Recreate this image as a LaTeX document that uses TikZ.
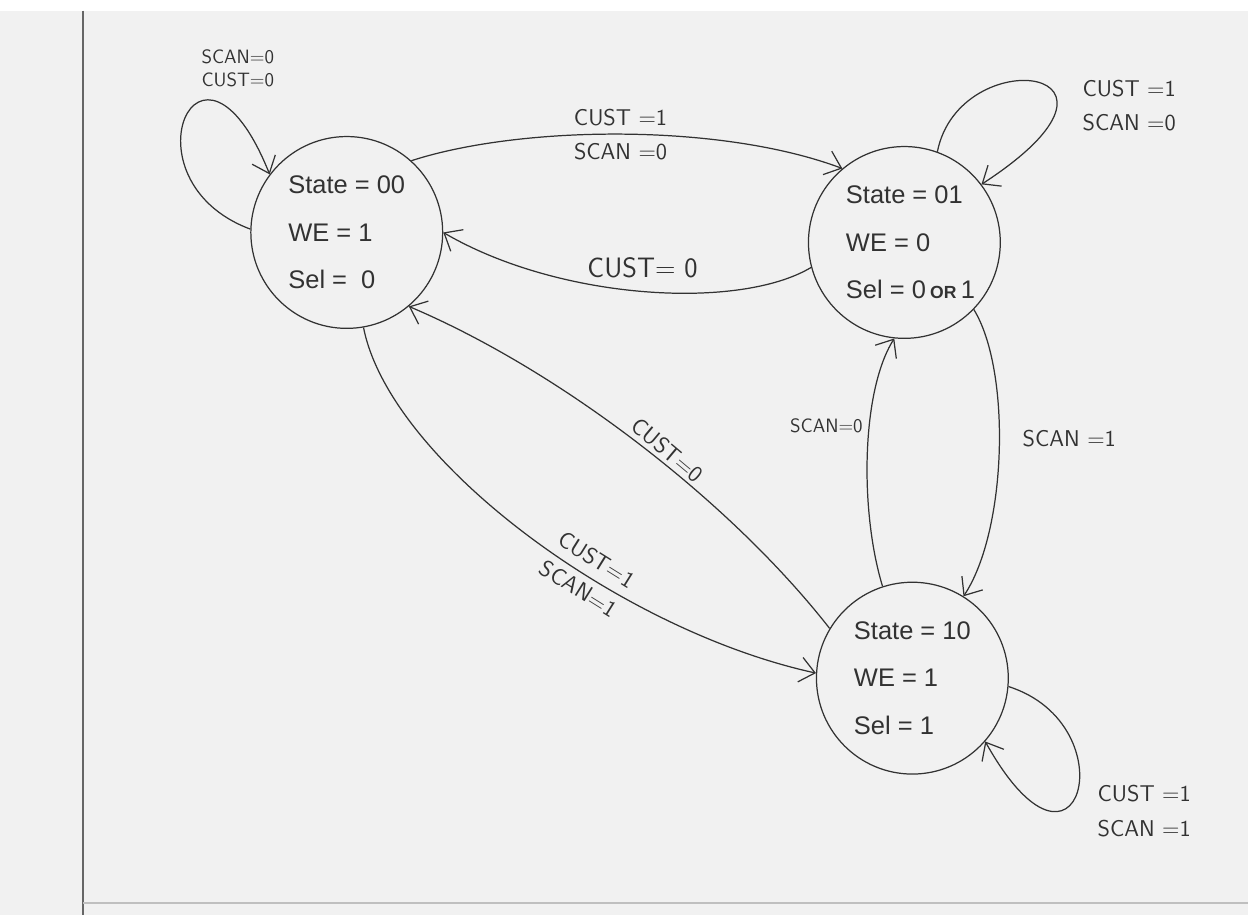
\documentclass[tikz,border=0pt]{standalone}
\usepackage{fontspec}
\newfontfamily\statefont{Liberation Sans}
\usetikzlibrary{arrows.meta}
\definecolor{fsmInk}{RGB}{50,50,50}
\definecolor{fsmPaper}{RGB}{241,241,241}
\newcommand{\handfont}{\sffamily\fontsize{13}{19.5}\selectfont}
\newcommand{\smallhand}{\sffamily\fontsize{11}{13}\selectfont}

\begin{document}
\begin{tikzpicture}[x=0.02cm, y=0.02cm,
    state/.style={circle, draw=fsmInk, line width=0.7pt, minimum size=3.84cm, inner sep=0pt,
                  align=left, text=fsmInk, font=\statefont\fontsize{14.5}{27}\selectfont},
    cond/.style={font=\handfont, text=fsmInk, align=center, inner sep=1pt},
    trans/.style={draw=fsmInk, line width=0.7pt, -{Straight Barb[length=3mm, width=5mm]}}
  ]
  % paper
  \fill[fsmPaper] (0,0) rectangle (1249,-905);
  \draw[black!60, line width=1.2pt] (83,0) -- (83,-905);
  \draw[black!25, line width=1pt] (83,-893) -- (1249,-893);

  % states
  \node[state] (s00) at (347,-222) {State = 00\\WE = 1\\Sel = \ 0};
  \node[state] (s01) at (905,-232) {State = 01\\WE = 0\\Sel = 0\rlap{\,{\fontsize{10}{12}\selectfont\bfseries OR}\,1}};
  \node[state] (s10) at (913,-668) {State = 10\\WE = 1\\Sel = 1};

  % self loops
  \draw[trans] (s00.178) .. controls (120,-170) and (200,10) .. (s00.143);
  \draw[trans] (s01.70) .. controls (960,-30) and (1165,-55) .. (s01.37);
  \draw[trans] (s10.-5) .. controls (1130,-715) and (1080,-900) .. (s10.-41);

  % transitions
  \draw[trans] (s00.48) .. controls (520,-115) and (720,-112) .. (s01.130);
  \draw[trans] (s01.195) .. controls (740,-300) and (560,-290) .. (s00.0);
  \draw[trans] (s01.-44) .. controls (1012,-360) and (1008,-520) .. (s10.58);
  \draw[trans] (s10.108) .. controls (860,-500) and (862,-380) .. (s01.264);
  \draw[trans] (s10.149) .. controls (730,-490) and (560,-360) .. (s00.-50);
  \draw[trans] (s00.-80) .. controls (390,-450) and (620,-620) .. (s10.177);

  % conditions
  \node[cond, font=\smallhand] (l00) at (238,-58) {SCAN=0\\CUST=0};
  \node[cond] (l01) at (1130,-95) {CUST =1\\SCAN =0};
  \node[cond] (l10) at (1145,-801) {CUST =1\\SCAN =1};
  \node[cond] (c0001) at (621,-124) {CUST =1\\SCAN =0};
  \node[cond, font=\sffamily\fontsize{16}{19}\selectfont] (c0100) at (643,-257) {CUST= 0};
  \node[cond] (c0110) at (1070,-428) {SCAN =1};
  \node[cond, font=\smallhand] (c1001) at (827,-415) {SCAN=0};
  \node[cond, rotate=-40] (c1000) at (668,-440) {CUST=0};
  \node[cond, rotate=-32] (c0010) at (588,-564) {CUST=1\\SCAN=1};
\end{tikzpicture}
\end{document}
